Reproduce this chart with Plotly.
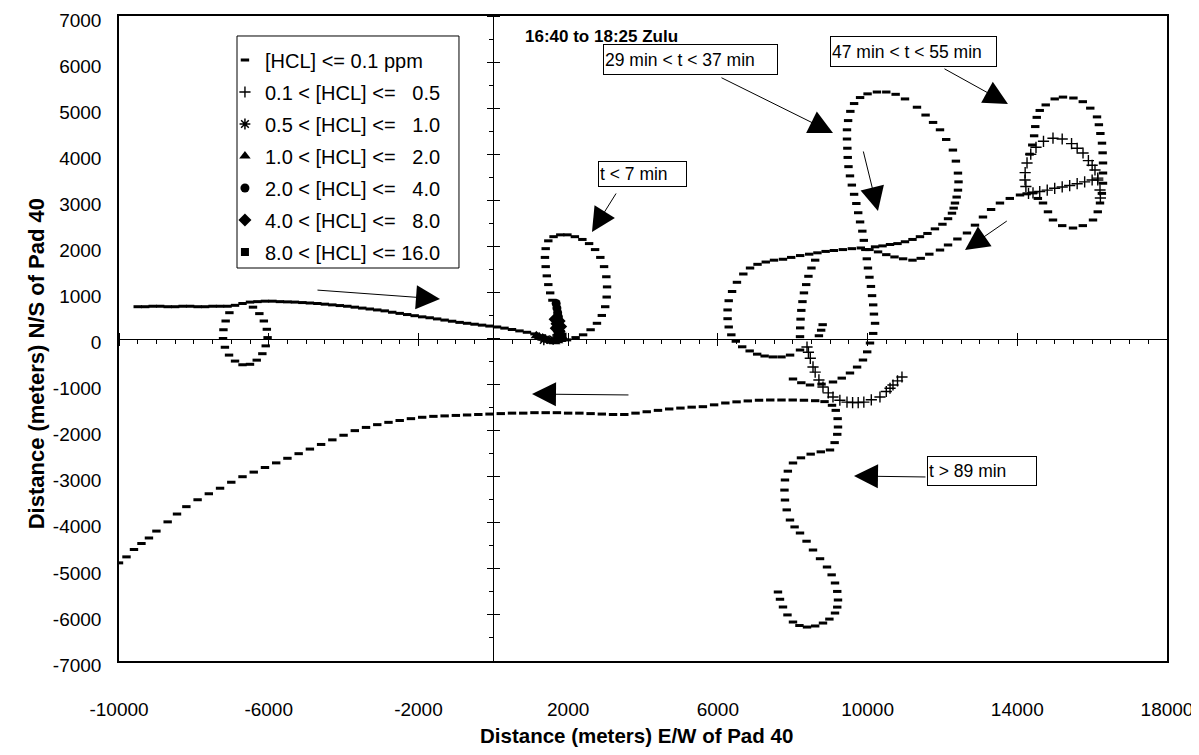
import plotly.graph_objects as go

FONT = "Liberation Sans, Arial, sans-serif"

# ---- values (metres from Pad 40) ----

# [HCL] <= 0.1 ppm  ('-' markers), traced piece by piece
west_upper = [(-9500, 690), (-9300, 690), (-9100, 700), (-8900, 700), (-8700, 690), (-8500, 690),
              (-8300, 700), (-8100, 700), (-7900, 690), (-7700, 690), (-7500, 700), (-7300, 700),
              (-7100, 700), (-6900, 720), (-6700, 760), (-6500, 790), (-6300, 800), (-6100, 810),
              (-5900, 810), (-5700, 800), (-5500, 795), (-5300, 790), (-5100, 780), (-4900, 770),
              (-4700, 760), (-4500, 745), (-4300, 730), (-4100, 715), (-3900, 700), (-3700, 680),
              (-3500, 660), (-3300, 640), (-3100, 620), (-2900, 600), (-2700, 570), (-2500, 545),
              (-2300, 520), (-2100, 495), (-1900, 470), (-1700, 450), (-1500, 425), (-1300, 400),
              (-1100, 375), (-900, 350), (-700, 330), (-500, 310), (-300, 290), (-100, 270),
              (100, 250), (300, 225), (500, 195), (700, 165), (900, 135), (1100, 100), (1300, 60)]
small_loop = [(-7050, 560), (-7150, 380), (-7210, 190), (-7220, 0), (-7170, -190), (-7060, -360),
              (-6900, -490), (-6700, -570), (-6500, -560), (-6320, -470), (-6170, -330), (-6080, -160),
              (-6030, 20), (-6050, 200), (-6130, 380), (-6250, 540), (-6420, 680)]
loop_t7 = [(1970, -30), (2200, 20), (2400, 80), (2600, 190), (2770, 330), (2900, 500), (2990, 690),
           (3030, 900), (3040, 1120), (3020, 1340), (2960, 1560), (2860, 1760), (2720, 1930),
           (2560, 2060), (2380, 2150), (2180, 2210), (1980, 2250), (1790, 2250), (1610, 2210),
           (1470, 2120), (1400, 1950), (1380, 1760), (1400, 1560), (1430, 1360), (1470, 1170),
           (1520, 990), (1580, 830)]
loop_29_37 = [(8007, -879), (8230, -960), (8462, -1009), (8770, -990), (9076, -944), (9310, -860),
              (9530, -749), (9720, -620), (9877, -467), (9990, -290), (10065, -98), (10150, 110),
              (10200, 330), (10170, 530), (10150, 730), (10120, 930), (10090, 1130), (10050, 1330),
              (10010, 1530), (9980, 1730), (9940, 1930), (9900, 2130), (9860, 2330), (9800, 2530),
              (9750, 2730), (9700, 2930), (9640, 3130), (9580, 3330), (9530, 3530), (9490, 3730),
              (9470, 3930), (9460, 4130), (9450, 4330), (9450, 4530), (9480, 4730), (9540, 4930),
              (9640, 5100), (9800, 5230), (10000, 5310), (10250, 5350), (10500, 5350), (10750, 5300),
              (11000, 5200), (11320, 5020), (11550, 4850), (11750, 4690), (11935, 4530), (12100, 4320),
              (12280, 4090), (12360, 3850), (12415, 3590), (12430, 3400), (12415, 3220), (12380, 3070),
              (12335, 2940), (12300, 2830), (12255, 2720), (12150, 2600), (12000, 2480), (11800, 2380),
              (11600, 2280), (11400, 2210), (11200, 2150), (11000, 2100), (10800, 2060), (10600, 2040),
              (10400, 2010), (10200, 1990)]
s_line = [(8195, -250), (7930, -360), (7700, -400), (7470, -400), (7250, -380), (7050, -340),
          (6850, -270), (6650, -180), (6480, -60), (6360, 80), (6290, 250), (6260, 430), (6260, 620),
          (6290, 820), (6380, 1020), (6510, 1220), (6680, 1400), (6860, 1530), (7060, 1610),
          (7280, 1660), (7500, 1700), (7740, 1720), (7960, 1760), (8200, 1800), (8440, 1830),
          (8660, 1860), (8880, 1890), (9100, 1910), (9340, 1930), (9580, 1950), (9820, 1965),
          (10050, 1930), (10280, 1880), (10500, 1820), (10720, 1770), (10950, 1730), (11200, 1700),
          (11420, 1740), (11650, 1830), (11935, 1920), (12150, 2030), (12400, 2160), (12656, 2290),
          (12870, 2460), (13083, 2637), (13300, 2800), (13537, 2940), (13800, 3040), (14073, 3115),
          (14250, 3140)]
branch = [(8600, 1700), (8500, 1530), (8420, 1350), (8360, 1170), (8300, 990), (8260, 800),
          (8230, 610), (8210, 420), (8200, 230), (8195, 40), (8800, 300), (8760, 180), (8700, 60)]
loop_47_55 = [(14420, 3160), (14550, 3040), (14687, 2941), (14820, 2750), (14954, 2572), (15200, 2450),
              (15489, 2398), (15750, 2450), (16023, 2572), (16150, 2750), (16210, 2941), (16260, 3150),
              (16290, 3370), (16290, 3592), (16290, 3810), (16280, 4030), (16263, 4240), (16220, 4450),
              (16180, 4640), (16130, 4810), (15950, 5000), (15750, 5140), (15500, 5220), (15221, 5240),
              (15000, 5200), (14760, 5070), (14600, 4950), (14520, 4800), (14480, 4600), (14450, 4400),
              (14400, 4200), (14330, 4000)]
south = [(-10000, -4870), (-9800, -4740), (-9600, -4580), (-9400, -4450), (-9200, -4330), (-9000, -4180),
         (-8700, -3980), (-8450, -3810), (-8200, -3650), (-7900, -3500), (-7600, -3370), (-7300, -3250),
         (-7000, -3120), (-6700, -3000), (-6400, -2900), (-6100, -2800), (-5800, -2700), (-5500, -2600),
         (-5200, -2500), (-4900, -2400), (-4600, -2300), (-4300, -2200), (-4000, -2100), (-3700, -2000),
         (-3400, -1930), (-3100, -1870), (-2800, -1820), (-2500, -1780), (-2200, -1740), (-1900, -1710),
         (-1600, -1690), (-1300, -1680), (-1000, -1670), (-700, -1660), (-400, -1650), (-100, -1640),
         (200, -1630), (500, -1620), (800, -1620), (1100, -1610), (1400, -1610), (1700, -1610),
         (2000, -1620), (2300, -1620), (2600, -1630), (2900, -1640), (3200, -1650), (3500, -1650),
         (3800, -1620), (4100, -1590), (4400, -1560), (4700, -1530), (5000, -1510), (5300, -1490),
         (5600, -1480), (5900, -1440), (6200, -1400), (6500, -1375), (6800, -1355), (7100, -1340),
         (7400, -1335), (7700, -1335), (8000, -1335), (8300, -1340), (8600, -1350), (8850, -1370),
         (9050, -1450), (9150, -1560), (9200, -1740), (9210, -1921), (9190, -2080), (9120, -2260),
         (8996, -2420), (8750, -2460), (8480, -2510), (8220, -2590), (8007, -2702), (7870, -2880),
         (7793, -3071), (7780, -3290), (7793, -3506), (7840, -3720), (7927, -3940), (8050, -4090),
         (8195, -4222), (8370, -4400), (8542, -4591), (8730, -4780), (8916, -4960), (9040, -5130),
         (9130, -5307), (9190, -5490), (9210, -5676), (9190, -5830), (9130, -5959), (8980, -6090),
         (8809, -6176), (8600, -6240), (8382, -6263), (8180, -6230), (8007, -6154), (7860, -6000),
         (7740, -5828), (7660, -5660), (7606, -5502)]

# 0.1 < [HCL] <= 0.5  ('+' markers)
plus_arc = [(8382, -184), (8420, -300), (8470, -430), (8542, -618), (8600, -730), (8700, -900),
            (8809, -1053), (8950, -1180), (9076, -1270), (9260, -1340), (9450, -1380), (9600, -1390),
            (9750, -1390), (9900, -1380), (10100, -1330), (10331, -1270), (10500, -1150), (10600, -1080),
            (10679, -1009), (10800, -920), (10919, -836)]
plus_loop = [(14300, 3150), (14230, 3300), (14206, 3440), (14210, 3600), (14260, 3810), (14360, 4000),
             (14500, 4150), (14700, 4280), (14954, 4348), (15200, 4330), (15450, 4230), (15600, 4130),
             (15756, 4026), (15900, 3860), (16000, 3760), (16076, 3657), (16150, 3440), (16210, 3223),
             (16220, 3050)]
plus_line = [(14420, 3160), (14600, 3190), (14800, 3220), (15000, 3260), (15200, 3290), (15400, 3320),
             (15600, 3360), (15800, 3400), (16000, 3440), (16150, 3480)]

# higher concentrations, all right next to the pad
star_pts = [(1350, -30), (1600, -20)]
tri_pts = [(1150, 60), (1230, 30), (1320, 10), (1400, -20), (1480, -40), (1560, -60), (1640, -70),
           (1720, -50), (1800, -20), (1880, 0)]
circ_pts = [(1680, 760), (1700, 660), (1720, 560), (1740, 470)]
diam_pts = [(1650, 420), (1760, 380), (1700, 320), (1800, 260), (1680, 220), (1760, 160)]
sq_pts = [(1800, 100), (1720, 60), (1850, 40)]

NB = "\u00a0"
legend_names = [
    "[HCL] <= 0.1 ppm",
    f"0.1 < [HCL] <={NB * 3}0.5",
    f"0.5 < [HCL] <={NB * 3}1.0",
    f"1.0 < [HCL] <={NB * 3}2.0",
    f"2.0 < [HCL] <={NB * 3}4.0",
    f"4.0 < [HCL] <={NB * 3}8.0",
    "8.0 < [HCL] <= 16.0",
]

x_ticks = [-10000, -6000, -2000, 2000, 6000, 10000, 14000, 18000]
y_ticks = [7000, 6000, 5000, 4000, 3000, 2000, 1000, 0, -1000, -2000, -3000, -4000, -5000, -6000, -7000]

# boxed call-outs: text, centre x, centre y, box width, box height
labels = [
    ("t < 7 min", 3986, 3571, 85, 22),
    ("29 min < t < 37 min", 5269, 6056, 171, 27),
    ("47 min < t < 55 min", 11227, 6230, 163, 27),
    ("t > 89 min", 13057, -2876, 106, 26),
]
# arrows: tail x, tail y, tip x, tip y
arrows = [
    (3305, 3180, 2637, 2312),
    (6057, 5676, 9076, 4461),
    (12015, 5871, 13751, 5090),
    (11587, -3006, 9637, -2985),
    (-4737, 1053, -1424, 857),
    (3652, -1226, 1034, -1205),
    (9877, 4092, 10278, 2767),
    (13760, 2572, 12603, 1921),
]


def xy(*pieces):
    pts = [p for piece in pieces for p in piece]
    return [p[0] for p in pts], [p[1] for p in pts]


series = [
    (xy(west_upper, small_loop, loop_t7, loop_29_37, s_line, branch, loop_47_55, south),
     dict(symbol="line-ew", size=6, color="black", line=dict(width=3, color="black"))),
    (xy(plus_arc, plus_loop, plus_line),
     dict(symbol="cross-thin", size=8, color="black", line=dict(width=1.4, color="black"))),
    (xy(star_pts), dict(symbol="asterisk", size=9, color="black", line=dict(width=1.5, color="black"))),
    (xy(tri_pts), dict(symbol="triangle-up", size=10, color="black", line=dict(width=0))),
    (xy(circ_pts), dict(symbol="circle", size=9, color="black", line=dict(width=0))),
    (xy(diam_pts), dict(symbol="diamond", size=10, color="black", line=dict(width=0))),
    (xy(sq_pts), dict(symbol="square", size=8, color="black", line=dict(width=0))),
]

fig = go.Figure()
for i, ((xs, ys), marker) in enumerate(series):
    fig.add_trace(go.Scatter(x=xs, y=ys, mode="markers", marker=marker,
                             name=legend_names[i], legendgroup=f"g{i}"))

# empty traces so the axes through the origin get their own subplots
fig.add_trace(go.Scatter(x=[], y=[], xaxis="x2", yaxis="y", showlegend=False))
fig.add_trace(go.Scatter(x=[], y=[], xaxis="x3", yaxis="y", showlegend=False))
fig.add_trace(go.Scatter(x=[], y=[], xaxis="x", yaxis="y2", showlegend=False))
fig.add_trace(go.Scatter(x=[], y=[], xaxis="x", yaxis="y3", showlegend=False))

for text, cx, cy, w, h in labels:
    fig.add_annotation(x=cx, y=cy, xref="x", yref="y", text=text, showarrow=False,
                       width=w, height=h, align="left", bgcolor="white",
                       bordercolor="black", borderwidth=1, borderpad=1,
                       font=dict(family=FONT, size=17.5, color="black"))

for sx, sy, tx, ty in arrows:
    fig.add_annotation(x=tx, y=ty, ax=sx, ay=sy, xref="x", yref="y", axref="x", ayref="y",
                       text="", showarrow=True, arrowhead=2, arrowsize=4.8, arrowwidth=1,
                       arrowcolor="black")

# title: the scan clips it at the top, here it sits just inside the frame
fig.add_annotation(x=0.46, y=0.985, xref="paper", yref="paper", yanchor="top",
                   text="<b>16:40 to 18:25 Zulu</b>", showarrow=False, borderpad=0,
                   font=dict(family=FONT, size=17, color="black"))
fig.add_annotation(x=0.494, y=-0.115, xref="paper", yref="paper", yanchor="middle",
                   text="<b>Distance (meters) E/W of Pad 40</b>", showarrow=False,
                   font=dict(family=FONT, size=20.5, color="black"))
fig.add_annotation(x=-0.093, y=0.46, xref="paper", yref="paper", textangle=-90,
                   text="<b>Distance (meters) N/S of Pad 40</b>", showarrow=False,
                   font=dict(family=FONT, size=22, color="black"))

# legend frame
fig.add_shape(type="rect", xref="paper", yref="paper", x0=0.1126, x1=0.3244, y0=0.6093, y1=0.969,
              line=dict(color="black", width=1), fillcolor="white", layer="below")

XR = [-10000, 18000]
YR = [-7000, 7000]
zero_x = dict(range=XR, overlaying="x", anchor="free", position=0.5, showline=True,
              linecolor="black", linewidth=1, showticklabels=False, showgrid=False,
              zeroline=False, ticks="outside", ticklen=6, tickcolor="black", automargin=False,
              tickmode="linear", tick0=-10000, dtick=4000)
zero_y = dict(range=YR, overlaying="y", anchor="free", position=10000 / 28000, showline=True,
              linecolor="black", linewidth=1, showticklabels=False, showgrid=False,
              zeroline=False, ticks="outside", ticklen=6, tickcolor="black", automargin=False,
              tickmode="linear", tick0=0, dtick=1000)

# the page body adds an 8 px offset, so the figure is 8 px smaller each way
fig.update_layout(
    width=1191, height=747,
    margin=dict(l=111, r=32, t=8, b=94, autoexpand=False),
    paper_bgcolor="white", plot_bgcolor="white",
    font=dict(family=FONT, size=19, color="black"),
    xaxis=dict(range=XR, tickmode="array", tickvals=x_ticks, ticktext=[str(v) for v in x_ticks],
               showgrid=False, zeroline=False, showline=True, mirror=True, linecolor="black",
               linewidth=1.5, ticks="", ticklabelstandoff=30, automargin=False,
               ticklabeloverflow="allow"),
    yaxis=dict(range=YR, tickmode="array", tickvals=y_ticks, ticktext=[str(v) for v in y_ticks],
               showgrid=False, zeroline=False, showline=True, mirror=True, linecolor="black",
               linewidth=1.5, ticks="", ticklabelstandoff=12, ticklabelshift=4, automargin=False,
               ticklabeloverflow="allow"),
    xaxis2=dict(zero_x, side="bottom",
                minor=dict(ticks="outside", ticklen=4, dtick=500, tick0=0, tickcolor="black")),
    xaxis3=dict(zero_x, side="top"),
    yaxis2=dict(zero_y, side="left",
                minor=dict(ticks="outside", ticklen=4, dtick=500, tick0=0, tickcolor="black")),
    yaxis3=dict(zero_y, side="right"),
    legend=dict(x=0.1011, y=0.962, xanchor="left", yanchor="top", bgcolor="rgba(0,0,0,0)",
                borderwidth=0, traceorder="grouped", tracegroupgap=3,
                font=dict(family=FONT, size=20, color="black")),
    showlegend=True,
)

fig.write_html("out.html")
